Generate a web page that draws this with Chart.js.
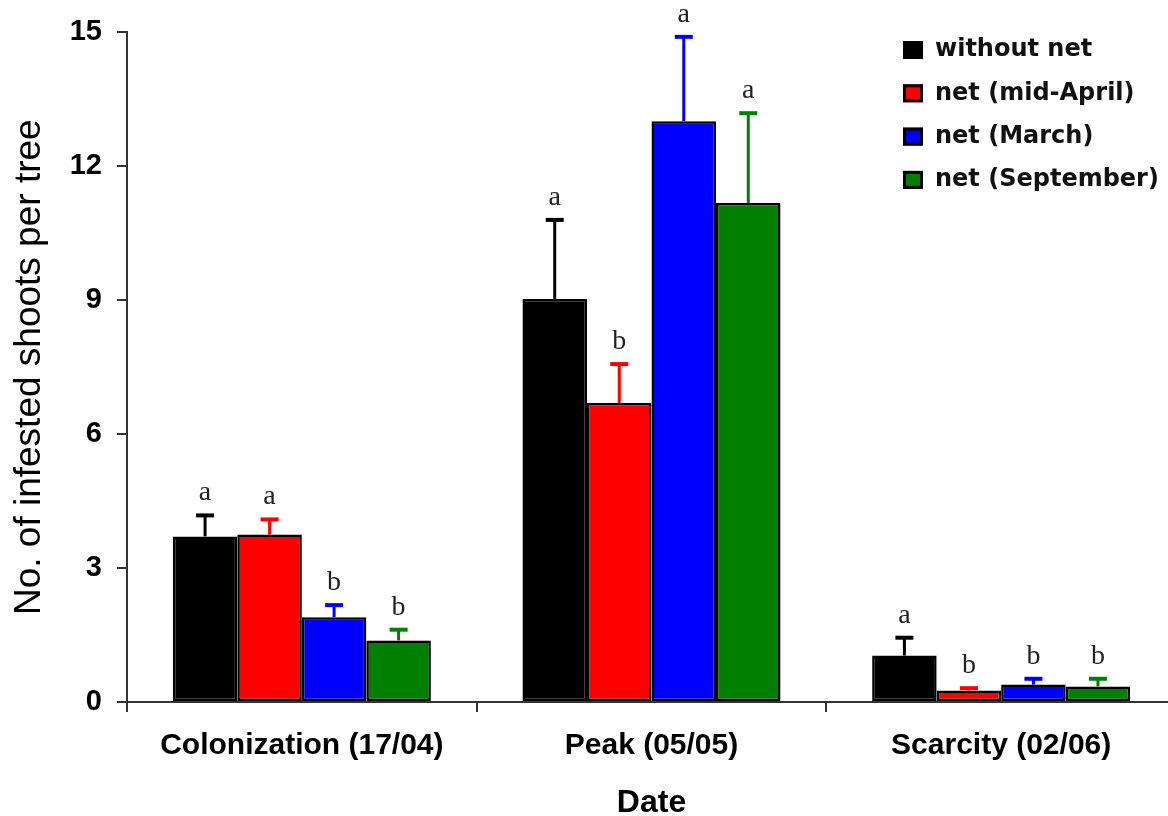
<!DOCTYPE html>
<html>
<head>
<meta charset="utf-8">
<script src="https://cdn.jsdelivr.net/npm/chart.js@4.4.1/dist/chart.umd.min.js"></script>
<style>
    html, body {
        margin: 0;
        padding: 0;
        background: #fff;
        overflow: hidden;
    }

    #wrap {
        width: 1176px;
        height: 816px;
        position: relative;
    }
</style>
</head>
<body>

<div id="wrap">
    <canvas id="shootsChart"></canvas>
</div>

<script>

const categories = ['Colonization (17/04)', 'Peak (05/05)', 'Scarcity (02/06)'];

const seriesNames = ['without net', 'net (mid-April)', 'net (March)', 'net (September)'];

const withoutNet = [3.71, 9.03, 1.04];
const netMidApril = [3.75, 6.70, 0.26];
const netMarch = [1.90, 13.01, 0.39];
const netSeptember = [1.38, 11.18, 0.35];

// upper error (SE) for each bar
const withoutNetErr = [0.47, 1.77, 0.40];
const netMidAprilErr = [0.34, 0.87, 0.05];
const netMarchErr = [0.27, 1.89, 0.13];
const netSeptemberErr = [0.24, 2.01, 0.17];

// significance letters
const withoutNetLetters = ['a', 'a', 'a'];
const netMidAprilLetters = ['a', 'b', 'b'];
const netMarchLetters = ['b', 'a', 'b'];
const netSeptemberLetters = ['b', 'a', 'b'];

const yTicks = [0, 3, 6, 9, 12, 15];

const barColors = ['#000000', '#ff0000', '#0000ff', '#008000'];

const axisFont = "'Liberation Sans', Arial, sans-serif";


const errorBarPlugin = {

    id: 'errorBars',

    afterDatasetsDraw(chart) {

        const ctx = chart.ctx;
        const y = chart.scales.y;

        chart.data.datasets.forEach((ds, i) => {

            const meta = chart.getDatasetMeta(i);

            meta.data.forEach((bar, j) => {

                const base = y.getPixelForValue(ds.data[j]);
                const top = y.getPixelForValue(ds.data[j] + ds.errors[j]);

                ctx.save();

                ctx.strokeStyle = ds.backgroundColor;

                ctx.lineWidth = 3;
                ctx.beginPath();
                ctx.moveTo(bar.x, base);
                ctx.lineTo(bar.x, top);
                ctx.stroke();

                ctx.lineWidth = 4;
                ctx.beginPath();
                ctx.moveTo(bar.x - 9, top);
                ctx.lineTo(bar.x + 9, top);
                ctx.stroke();

                ctx.fillStyle = '#222';
                ctx.font = "28px 'Liberation Serif', 'Times New Roman', serif";
                ctx.textAlign = 'center';
                ctx.textBaseline = 'alphabetic';
                ctx.fillText(ds.letters[j], bar.x, top - 15);

                ctx.restore();
            });
        });
    }
};


const legendPlugin = {

    id: 'boxLegend',

    afterDraw(chart) {

        const ctx = chart.ctx;

        ctx.save();

        chart.data.datasets.forEach((ds, i) => {

            const cy = 50 + i * 43.3;

            ctx.fillStyle = ds.backgroundColor;
            ctx.fillRect(903, cy - 9, 20, 18);

            ctx.strokeStyle = '#000';
            ctx.lineWidth = 3;
            ctx.strokeRect(904.5, cy - 7.5, 17, 15);

            ctx.fillStyle = '#111';
            ctx.font = "bold 24px 'DejaVu Sans', Verdana, sans-serif";
            ctx.textAlign = 'left';
            ctx.textBaseline = 'middle';
            ctx.fillText(ds.label, 935, cy);
        });

        ctx.restore();
    }
};


const chartCtx = document.getElementById('shootsChart');

new Chart(chartCtx, {

    type: 'bar',

    data: {

        labels: categories,

        datasets: [
            {
                label: seriesNames[0],
                data: withoutNet,
                errors: withoutNetErr,
                letters: withoutNetLetters,
                backgroundColor: barColors[0]
            },
            {
                label: seriesNames[1],
                data: netMidApril,
                errors: netMidAprilErr,
                letters: netMidAprilLetters,
                backgroundColor: barColors[1]
            },
            {
                label: seriesNames[2],
                data: netMarch,
                errors: netMarchErr,
                letters: netMarchLetters,
                backgroundColor: barColors[2]
            },
            {
                label: seriesNames[3],
                data: netSeptember,
                errors: netSeptemberErr,
                letters: netSeptemberLetters,
                backgroundColor: barColors[3]
            }
        ]
    },

    options: {

        responsive: true,

        maintainAspectRatio: false,

        animation: false,

        datasets: {
            bar: {
                borderColor: '#000',
                borderWidth: 2.5,
                borderSkipped: false,
                categoryPercentage: 0.738,
                barPercentage: 1.0
            }
        },

        layout: {
            padding: {
                top: 32,
                right: 0,
                bottom: 0,
                left: 0
            }
        },

        plugins: {

            legend: {
                display: false
            },

            tooltip: {
                enabled: false
            }
        },

        scales: {

            x: {

                afterFit(scale) {
                    scale.height = 114;
                },

                grid: {
                    offset: true,
                    drawOnChartArea: false,
                    drawTicks: true,
                    tickLength: 10,
                    color: '#333',
                    lineWidth: 2
                },

                border: {
                    display: true,
                    color: '#333',
                    width: 2
                },

                ticks: {
                    color: '#000',
                    padding: 16,
                    font: {
                        family: axisFont,
                        size: 30,
                        weight: 'bold'
                    }
                },

                title: {
                    display: true,
                    text: 'Date',
                    color: '#000',
                    padding: {
                        top: 0,
                        bottom: 0
                    },
                    font: {
                        family: axisFont,
                        size: 32,
                        weight: 'bold',
                        lineHeight: 0.8
                    }
                }
            },

            y: {

                min: 0,

                max: 15,

                afterFit(scale) {
                    scale.width = 127;
                },

                afterBuildTicks(scale) {
                    scale.ticks = yTicks.map(v => ({value: v}));
                },

                grid: {
                    drawOnChartArea: false,
                    drawTicks: true,
                    tickLength: 10,
                    color: '#333',
                    lineWidth: 2
                },

                border: {
                    display: true,
                    color: '#333',
                    width: 2
                },

                ticks: {
                    color: '#000',
                    padding: 15,
                    font: {
                        family: axisFont,
                        size: 29,
                        weight: 'bold'
                    }
                },

                title: {
                    display: true,
                    text: 'No. of infested shoots per tree',
                    color: '#000',
                    padding: {
                        top: 8,
                        bottom: 0
                    },
                    font: {
                        family: axisFont,
                        size: 37,
                        weight: 'normal'
                    }
                }
            }
        }
    },

    plugins: [errorBarPlugin, legendPlugin]
});

</script>
</body>
</html>
